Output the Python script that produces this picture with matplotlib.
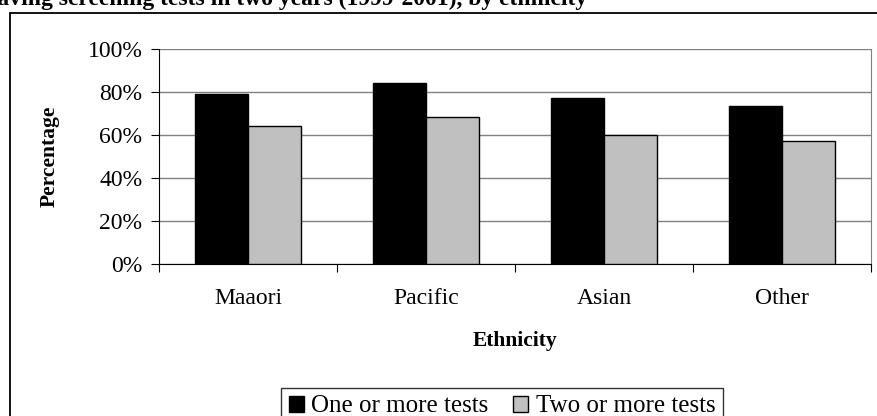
import matplotlib.pyplot as plt
import numpy as np
from matplotlib.patches import Rectangle

# data
ethnicity = ["Maaori", "Pacific", "Asian", "Other"]
one_or_more = [79, 84, 77, 73.5]
two_or_more = [64, 68.5, 60, 57]

plt.rcParams['font.family'] = ['Liberation Serif', 'DejaVu Serif']

W, H = 877, 416
fig = plt.figure(figsize=(W / 100, H / 100), dpi=100)

# outer chart border (bottom runs off the image)
fig.patches.append(Rectangle((10 / W, -0.1), (W + 20) / W, 1 - 13 / H + 0.1,
                             transform=fig.transFigure, fill=False,
                             edgecolor='black', linewidth=1.3))

# cropped caption above the chart
fig.text(587 / W, 1 - 5 / H,
         "women having screening tests in two years (1999-2001), by ethnicity",
         ha='right', va='baseline', fontsize=17, fontweight='bold')

ax = fig.add_axes([159 / W, 1 - 264 / H, (871 - 159) / W, (264 - 49) / H])

x = np.arange(len(ethnicity))
w = 0.295
ax.bar(x - w / 2, one_or_more, w, color='black', edgecolor='black',
       linewidth=1, label='One or more tests', zorder=3)
ax.bar(x + w / 2, two_or_more, w, color='#c0c0c0', edgecolor='black',
       linewidth=1, label='Two or more tests', zorder=3)

ax.set_xlim(-0.5, len(ethnicity) - 0.5)
ax.set_ylim(0, 100)
ax.set_yticks(range(0, 101, 20))
ax.set_yticklabels([f"{v}%" for v in range(0, 101, 20)], fontsize=17)
ax.yaxis.grid(True, color='#808080', linewidth=1, zorder=0)

ax.set_xticks(np.arange(-0.5, len(ethnicity), 1))
ax.set_xticklabels([])
ax.set_xticks(x, minor=True)
ax.set_xticklabels(ethnicity, minor=True, fontsize=17)
ax.tick_params(axis='x', which='minor', length=0, pad=17)
ax.tick_params(axis='x', which='major', length=6, color='black')
ax.tick_params(axis='y', length=6, pad=6)

ax.spines['top'].set_visible(False)
ax.spines['right'].set_color('#808080')
ax.spines['left'].set_color('black')
ax.spines['bottom'].set_color('black')

ax.set_xlabel("Ethnicity", fontsize=15.5, fontweight='bold', labelpad=16)
ax.set_ylabel("Percentage", fontsize=15.5, fontweight='bold', labelpad=20)

leg = fig.legend(loc='upper left', bbox_to_anchor=(281 / W, 1 - 388 / H),
                 ncol=2, fontsize=18, frameon=True, fancybox=False,
                 handlelength=0.6, handleheight=0.6, handletextpad=0.3,
                 columnspacing=1.0, borderpad=0.3, borderaxespad=0)
leg.get_frame().set_edgecolor('black')
leg.get_frame().set_linewidth(1)

fig.savefig("out.png", dpi=100)
